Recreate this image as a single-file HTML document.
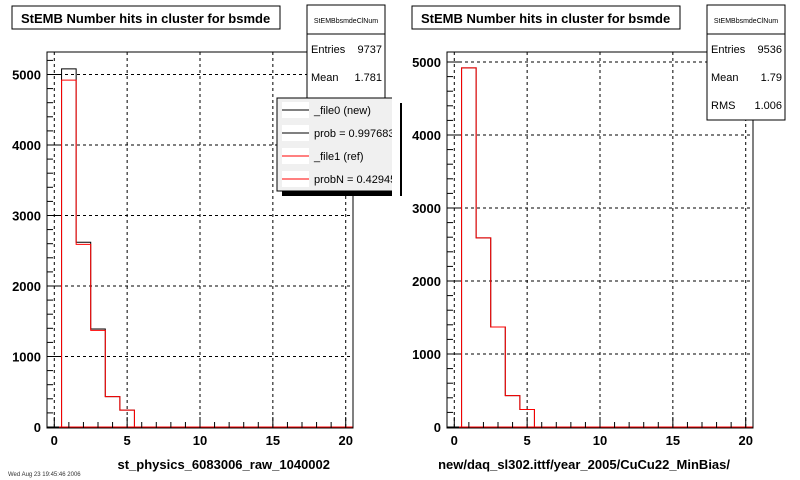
<!DOCTYPE html>
<html><head><meta charset="utf-8"><style>
body{margin:0;background:#fff;width:800px;height:480px;overflow:hidden}
svg{display:block;font-family:"Liberation Sans",Arial,sans-serif}
</style></head><body>
<svg id="c" width="800" height="480" viewBox="0 0 800 480"></svg>
<script>
const xTicks=[0,5,10,15,20];
const binLo=[0.5,1.5,2.5,3.5,4.5];
const leftNew=[5080,2620,1390,430,240];
const leftRef=[4920,2590,1370,430,240];
const rightNew=[4920,2590,1370,430,240];
const rightRef=[4920,2590,1370,430,240];
const yTicks=[0,1000,2000,3000,4000,5000];
const leftStats=[["Entries","9737"],["Mean","1.781"]];
const rightStats=[["Entries","9536"],["Mean","1.79"],["RMS","1.006"]];
const legendLabels=["_file0 (new)","prob = 0.997683","_file1 (ref)","probN = 0.42945"];
const legendColors=["#000","#000","#f00","#f00"];

const NS="http://www.w3.org/2000/svg";
const svg=document.getElementById('c');
function el(t,a,p){const e=document.createElementNS(NS,t);for(const k in a)e.setAttribute(k,a[k]);(p||svg).appendChild(e);return e;}

function panel(ox,ymax,newV,refV,stats,xtitle,titleName,withLegend,side){
  const g=el('g',{});
  
  
  const L=ox+47,R=ox+353,T=52,B=428;
  const xs=v=>L+(v+0.5)*(R-L)/21;
  const ys=v=>427-v*(427-T)/ymax;
  // title
  const tb=el('rect',{x:ox+12,y:6,width:268,height:23,fill:'#fff',stroke:'#000'},g);
  
  const tt=el('text',{x:ox+21,y:23,'font-size':13,'font-weight':'bold'},g);tt.textContent="StEMB Number hits in cluster for bsmde";
  
  // grid
  xTicks.forEach(v=>{const l=el('line',{x1:xs(v),x2:xs(v),y1:T,y2:B,stroke:'#000','stroke-dasharray':'3,3'},g);
    });
  yTicks.forEach(v=>{if(v===0)return;const y=ys(v);if(y<T)return;const l=el('line',{x1:L,x2:R,y1:y,y2:y,stroke:'#000','stroke-dasharray':'3,3'},g);
    });
  // histograms
  function hist(vals,color,name){
    let d=`M${xs(binLo[0])},${ys(0)}`;
    vals.forEach((v,i)=>{d+=` L${xs(binLo[i])},${ys(v)} L${xs(binLo[i]+1)},${ys(v)}`;});
    d+=` L${xs(binLo[vals.length-1]+1)},${ys(0)}`;
    const p=el('path',{d:d,fill:'none',stroke:color,'stroke-width':1},g);
    
    const b=el('line',{x1:L,x2:R,y1:ys(0),y2:ys(0),stroke:color},g);
    
  }
  hist(newV,'#000',side+'-new-hist');
  hist(refV,'#f00',side+'-ref-hist');
  // frame
  const fr=el('rect',{x:L,y:T,width:R-L,height:B-T,fill:'none',stroke:'#000'},g);
  
  // x ticks
  for(let v=0;v<=20;v++){const len=v%5===0?11:6;const l=el('line',{x1:xs(v),x2:xs(v),y1:B,y2:B-len,stroke:'#000'},g);
    }
  xTicks.forEach(v=>{const t=el('text',{x:xs(v),y:445,'font-size':13,'font-weight':'bold','text-anchor':'middle'},g);t.textContent=v;
    });
  // y ticks
  for(let v=0;v<=ymax;v+=200){const y=ys(v);const len=v%1000===0?12:6;const l=el('line',{x1:L,x2:L+len,y1:y,y2:y,stroke:'#000'},g);
    }
  yTicks.forEach(v=>{const t=el('text',{x:L-6,y:ys(v)+5,'font-size':13,'font-weight':'bold','text-anchor':'end'},g);t.textContent=v;
    });
  const xt=el('text',{x:R-23,y:469,'font-size':13,'font-weight':'bold','text-anchor':'end'},g);xt.textContent=xtitle;
  
  // stats
  const sh=stats.length===3?115:95;
  const sb=el('rect',{x:ox+307,y:5,width:78,height:sh,fill:'#fff',stroke:'#000'},g);
  
  el('line',{x1:ox+307,x2:ox+385,y1:34,y2:34,stroke:'#000'},g);
  const sn=el('text',{x:ox+346,y:23,'font-size':7,'text-anchor':'middle'},g);sn.textContent="StEMBbsmdeClNum";
  
  stats.forEach((s,i)=>{const y=53+i*28;
    const a=el('text',{x:ox+311,y:y,'font-size':11},g);a.textContent=s[0];
    
    const b=el('text',{x:ox+382,y:y,'font-size':11,'text-anchor':'end'},g);b.textContent=s[1];
    });
  if(withLegend){
    const lg=el('g',{},g);
    el('rect',{x:282,y:103,width:120,height:93,fill:'#000'},lg);
    el('rect',{x:277,y:98,width:120,height:93,fill:'#f0f0f0',stroke:'#000'},lg);
    legendLabels.forEach((s,i)=>{const y=110+i*23;
      el('rect',{x:282,y:y-8,width:27,height:16,fill:'#fff'},lg);
      const ln=el('line',{x1:282,x2:309,y1:y,y2:y,stroke:legendColors[i]},lg);
      
      const t=el('text',{x:314,y:y+4,'font-size':11},lg);t.textContent=s;
      });
  }
}
panel(0,5319,leftNew,leftRef,leftStats,"st_physics_6083006_raw_1040002","left",true,'left');
// clip legend at panel boundary
el('rect',{x:392,y:95,width:8,height:105,fill:'#fff'});
panel(400,5137,rightNew,rightRef,rightStats,"new/daq_sl302.ittf/year_2005/CuCu22_MinBias/","right",false,'right');
const ft=el('text',{x:8,y:476,'font-size':6,fill:'#333'});ft.textContent="Wed Aug 23 19:45:46 2006";

</script>
</body></html>
